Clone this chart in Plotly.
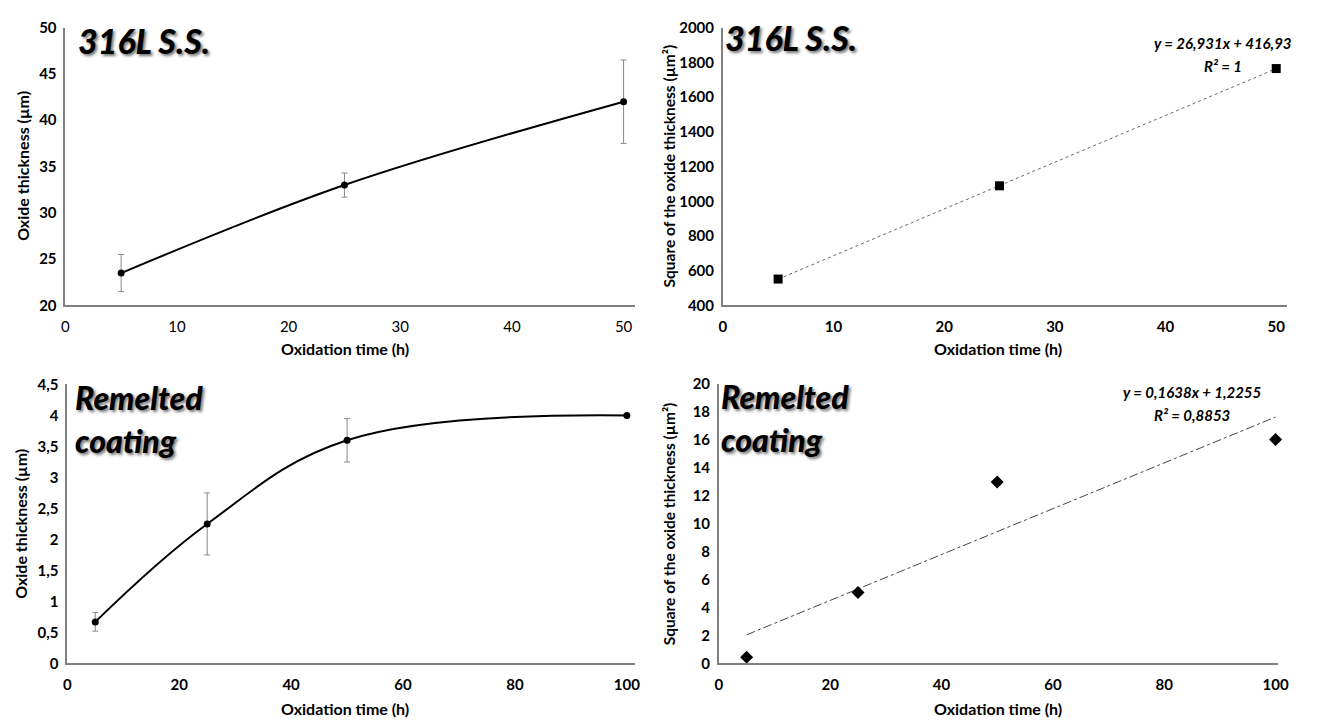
import plotly.graph_objects as go

W, H = 1324, 727

# ---- data ----
time_ss = [5, 25, 50]
thick_ss = [23.5, 33.0, 42.0]
err_ss = [2.0, 1.3, 4.5]
sq_ss = [552.25, 1089.0, 1764.0]
fit_ss = (26.931, 416.93)

time_rc = [5, 25, 50, 100]
thick_rc = [0.67, 2.25, 3.6, 4.0]
err_rc = [0.15, 0.5, 0.35]
sq_rc = [0.449, 5.06, 12.96, 16.0]
fit_rc = (0.1638, 1.2255)

FONT = "Lato"

def px(x):
    return x / W

def py(y):
    return 1 - y / H

fig = go.Figure()

# Top-left: oxide thickness 316L
fig.add_trace(go.Scatter(x=time_ss, y=thick_ss, mode="lines+markers",
                         line=dict(color="black", width=2, shape="spline", smoothing=1),
                         marker=dict(color="black", size=7),
                         error_y=dict(type="data", array=err_ss, color="#888888", thickness=1, width=3),
                         xaxis="x", yaxis="y", showlegend=False, cliponaxis=False))

# Top-right: square 316L with linear trend
xs_fit = [min(time_ss), max(time_ss)]
fig.add_trace(go.Scatter(x=xs_fit, y=[fit_ss[0] * v + fit_ss[1] for v in xs_fit], mode="lines",
                         line=dict(color="#666666", width=1, dash="dot"),
                         xaxis="x2", yaxis="y2", showlegend=False, cliponaxis=False))
fig.add_trace(go.Scatter(x=time_ss, y=sq_ss, mode="markers",
                         marker=dict(color="black", size=9, symbol="square"),
                         xaxis="x2", yaxis="y2", showlegend=False, cliponaxis=False))

# Bottom-left: oxide thickness coating
fig.add_trace(go.Scatter(x=time_rc[:3], y=thick_rc[:3], mode="markers",
                         marker=dict(color="rgba(0,0,0,0)", size=7),
                         error_y=dict(type="data", array=err_rc, color="#888888", thickness=1, width=3),
                         xaxis="x3", yaxis="y3", showlegend=False, cliponaxis=False))
fig.add_trace(go.Scatter(x=time_rc, y=thick_rc, mode="lines+markers",
                         line=dict(color="black", width=2, shape="spline", smoothing=1.1),
                         marker=dict(color="black", size=7),
                         xaxis="x3", yaxis="y3", showlegend=False, cliponaxis=False))

# Bottom-right: square coating with linear trend
xr_fit = [min(time_rc), max(time_rc)]
fig.add_trace(go.Scatter(x=xr_fit, y=[fit_rc[0] * v + fit_rc[1] for v in xr_fit], mode="lines",
                         line=dict(color="#444444", width=1, dash="dashdot"),
                         xaxis="x4", yaxis="y4", showlegend=False, cliponaxis=False))
fig.add_trace(go.Scatter(x=time_rc, y=sq_rc, mode="markers",
                         marker=dict(color="black", size=10, symbol="diamond"),
                         xaxis="x4", yaxis="y4", showlegend=False, cliponaxis=False))

bold_tick = dict(family=FONT, size=15, color="black", weight="bold")
reg_tick = dict(family=FONT, size=15, color="black")

def xax(dom, rng, dtick, anchor, font=bold_tick):
    return dict(domain=[px(dom[0]), px(dom[1])], range=rng, dtick=dtick, anchor=anchor,
                showgrid=False, zeroline=False, showline=True, linecolor="#808080", linewidth=1.5,
                ticks="", tickfont=font, ticklabelstandoff=7, fixedrange=True)

def yax(dom, rng, dtick, anchor, font=bold_tick):
    return dict(domain=[py(dom[1]), py(dom[0])], range=rng, dtick=dtick, anchor=anchor,
                showgrid=False, zeroline=False, showline=True, linecolor="#808080", linewidth=1.5,
                ticks="", tickfont=font, ticklabelstandoff=4, fixedrange=True)

fig.update_layout(
    width=W, height=H, margin=dict(l=0, r=0, t=0, b=0),
    paper_bgcolor="white", plot_bgcolor="white", separators=", ",
    xaxis=xax((62, 638), [0, 51], 10, "y", reg_tick),
    yaxis=yax((18, 303), [20, 50], 5, "x"),
    xaxis2=xax((727, 1298), [0, 51], 10, "y2"),
    yaxis2=yax((18, 303), [400, 2000], 200, "x2"),
    xaxis3=xax((64, 638.5), [0, 101.5], 20, "y3"),
    yaxis3=yax((384, 670), [0, 4.5], 0.5, "x3"),
    xaxis4=xax((723, 1289), [0, 100.5], 20, "y4"),
    yaxis4=yax((383, 670), [0, 20], 2, "x4"),
)

title_font = dict(family=FONT, size=34, color="black", weight=900, style="italic",
                  shadow="2px 2px 3px rgba(0,0,0,0.55)")
ann = []
def add(text, x, y, xanchor="center", yanchor="middle", font=None, angle=0):
    ann.append(dict(text=text, x=px(x), y=py(y), xref="paper", yref="paper",
                    xanchor=xanchor, yanchor=yanchor, showarrow=False, font=font, textangle=angle))

add("316L S.S.", 73, 31, "left", font=title_font)
add("316L S.S.", 727, 28, "left", font=title_font)
t2 = dict(title_font, size=32)
add("Remelted", 70, 397, "left", font=t2)
add("coating", 70, 441, "left", font=t2)
add("Remelted", 723, 396, "left", font=t2)
add("coating", 723, 440, "left", font=t2)

eq_font = dict(family=FONT, size=15, color="black", weight="bold", style="italic")
add("y = 26,931x + 416,93", 1233, 34, font=eq_font)
add("R² = 1", 1233, 57, font=eq_font)
add("y = 0,1638x + 1,2255", 1202, 392, font=eq_font)
add("R² = 0,8853", 1202, 415, font=eq_font)

lab_font = dict(family=FONT, size=16, color="black", weight="bold")
lab_font_r = dict(lab_font, size=15.5)
add("Oxide thickness (µm)", 18, 160, font=lab_font, angle=-90)
add("Square of the oxide thickness (µm²)", 673, 160, font=lab_font_r, angle=-90)
add("Oxide thickness (µm)", 17, 527, font=lab_font, angle=-90)
add("Square of the oxide thickness (µm²)", 673, 527, font=lab_font_r, angle=-90)
add("Oxidation time (h)", 345, 347, font=lab_font)
add("Oxidation time (h)", 1005, 347, font=lab_font)
add("Oxidation time (h)", 345, 716, font=lab_font)
add("Oxidation time (h)", 1005, 716, font=lab_font)

fig.update_layout(annotations=ann)
fig.write_html("out.html")
